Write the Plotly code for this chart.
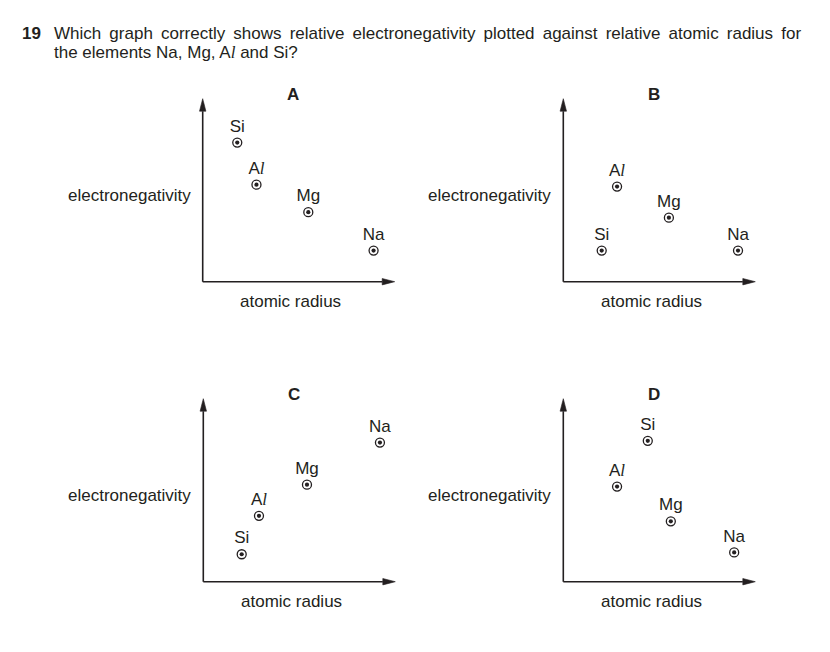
import plotly.graph_objects as go

# page body has an 8px margin, so the figure is 8px smaller and everything is shifted by 8px
OFF = 8
W, H = 830 - OFF, 652 - OFF

ITAL_L = '<span style="font-family:Liberation Serif,DejaVu Serif,serif;font-style:italic">l</span>'
elements = ["Si", "A" + ITAL_L, "Mg", "Na"]
panels = ["A", "B", "C", "D"]

# relative atomic radius (0-100 along the x arrow) and relative electronegativity (0-100 along the y arrow)
radius_A = [18, 28, 55, 89]
eneg_A = [76, 53, 38, 17]
radius_B = [20, 28, 55, 91]
eneg_B = [17, 52, 35, 17]
radius_C = [20, 29, 54, 92]
eneg_C = [15, 36, 53, 76]
radius_D = [44, 28, 56, 89]
eneg_D = [77, 52, 33, 16]

x_label = "atomic radius"
y_label = "electronegativity"
question_no = "19"
question_line1 = "Which graph correctly shows relative electronegativity plotted against relative atomic radius for"
question_line2 = "the elements Na, Mg, A" + ITAL_L + " and Si?"

data = {"A": (radius_A, eneg_A), "B": (radius_B, eneg_B),
        "C": (radius_C, eneg_C), "D": (radius_D, eneg_D)}

# panel origins in page pixels
boxes = {"A": (202.7, 281.7), "B": (563.3, 281.7), "C": (203.3, 581.7), "D": (563.3, 581.7)}
LX, LY = 192.0, 183.0  # pixel length of axes (to arrow tip)
PAD = 10.0             # extra plot area around the axes so shapes are not clipped

FONT = "Liberation Sans, Arial, sans-serif"
INK = "#231f20"


def px(x):
    return (x - OFF) / W


def py(y):
    return (H - (y - OFF)) / H


fig = go.Figure()
layout = dict(width=W, height=H, margin=dict(l=0, r=0, t=0, b=0),
              paper_bgcolor="white", plot_bgcolor="white", showlegend=False,
              font=dict(family=FONT, color=INK))
annotations = []
shapes = []

ux = 100.0 / LX  # data units per pixel
uy = 100.0 / LY
AL, AW = 12.5, 3.2  # arrowhead length and half width in px

for i, p in enumerate(panels):
    n = "" if i == 0 else str(i + 1)
    ox, oy = boxes[p]
    layout["xaxis" + n] = dict(domain=[px(ox - PAD), px(ox + LX + PAD)],
                               range=[-PAD * ux, 100 + PAD * ux],
                               visible=False, fixedrange=True)
    layout["yaxis" + n] = dict(domain=[py(oy + PAD), py(oy - LY - PAD)],
                               range=[-PAD * uy, 100 + PAD * uy],
                               visible=False, fixedrange=True)
    xr, yr = "x" + n, "y" + n
    rx, ey = data[p]
    fig.add_trace(go.Scatter(x=rx, y=ey, xaxis=xr, yaxis=yr, mode="markers+text",
                             text=elements, textposition="top center",
                             textfont=dict(size=17, family=FONT, color=INK),
                             marker=dict(symbol="circle-open", size=9, color=INK,
                                         line=dict(width=1.3, color=INK)),
                             cliponaxis=False, hoverinfo="skip"))
    fig.add_trace(go.Scatter(x=rx, y=ey, xaxis=xr, yaxis=yr, mode="markers",
                             marker=dict(symbol="circle", size=4.2, color=INK,
                                         line=dict(width=0)),
                             cliponaxis=False, hoverinfo="skip"))
    # axes with arrows
    shapes.append(dict(type="line", xref=xr, yref=yr, x0=0, y0=0, x1=100 - AL * ux, y1=0,
                       line=dict(color=INK, width=1.6)))
    shapes.append(dict(type="line", xref=xr, yref=yr, x0=0, y0=0, x1=0, y1=100 - AL * uy,
                       line=dict(color=INK, width=1.6)))
    shapes.append(dict(type="path", xref=xr, yref=yr,
                       path=f"M100,0 L{100 - AL * ux},{AW * uy} L{100 - AL * ux},{-AW * uy} Z",
                       fillcolor=INK, line=dict(color=INK, width=0.6)))
    shapes.append(dict(type="path", xref=xr, yref=yr,
                       path=f"M0,100 L{AW * ux},{100 - AL * uy} L{-AW * ux},{100 - AL * uy} Z",
                       fillcolor=INK, line=dict(color=INK, width=0.6)))
    # panel letter
    annotations.append(dict(xref="paper", yref="paper", x=px(ox + 90.5), y=py(oy - 187.5),
                            text="<b>" + p + "</b>", showarrow=False,
                            font=dict(size=17, family=FONT, color=INK),
                            xanchor="center", yanchor="middle"))
    # axis labels
    annotations.append(dict(xref="paper", yref="paper", x=px(ox - 10), y=py(oy - 86),
                            text=y_label, showarrow=False,
                            font=dict(size=17, family=FONT, color=INK),
                            xanchor="right", yanchor="middle"))
    annotations.append(dict(xref="paper", yref="paper", x=px(ox + 88), y=py(oy + 20),
                            text=x_label, showarrow=False,
                            font=dict(size=17, family=FONT, color=INK),
                            xanchor="center", yanchor="middle"))

# question text (first line is justified in the reference: widen the word gaps)
line1 = " \u2009".join(question_line1.split(" "))
annotations.append(dict(xref="paper", yref="paper", x=px(20), y=py(33),
                        text="<b>" + question_no + "</b>", showarrow=False,
                        font=dict(size=17, family=FONT, color=INK),
                        xanchor="left", yanchor="middle"))
annotations.append(dict(xref="paper", yref="paper", x=px(52), y=py(33),
                        text=line1, showarrow=False,
                        font=dict(size=17, family=FONT, color=INK),
                        xanchor="left", yanchor="middle"))
annotations.append(dict(xref="paper", yref="paper", x=px(52), y=py(52),
                        text=question_line2, showarrow=False,
                        font=dict(size=17, family=FONT, color=INK),
                        xanchor="left", yanchor="middle"))

layout["annotations"] = annotations
layout["shapes"] = shapes
fig.update_layout(**layout)
fig.write_html("out.html", config={"displayModeBar": False, "staticPlot": True})
